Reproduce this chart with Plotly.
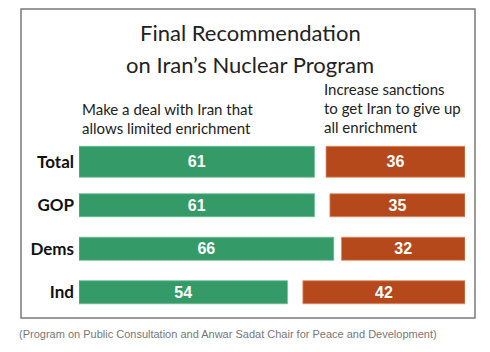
import plotly.graph_objects as go

categories = ["Total", "GOP", "Dems", "Ind"]
deal_values = [61, 61, 66, 54]
sanction_values = [36, 35, 32, 42]
scale_max = 100

title_lines = ["Final Recommendation", "on Iran’s Nuclear Program"]
deal_header = ["Make a deal with Iran that", "allows limited enrichment"]
sanction_header = ["Increase sanctions", "to get Iran to give up", "all enrichment"]
source_text = "(Program on Public Consultation and Anwar Sadat Chair for Peace and Development)"

GREEN = "#349a68"
RED = "#b6491b"
FONT = "Lato"

W, H = 490, 352
L, R, T, B = 79, 25, 140, 38
PW, PH = W - L - R, H - T - B


def px(x):
    return (x - L) / PW


def py(y):
    return (H - B - y) / PH


bar_widths = [0.71, 0.53, 0.53, 0.53]

fig = go.Figure()
fig.add_trace(go.Bar(
    y=categories, x=deal_values, orientation="h", base=0,
    width=bar_widths,
    marker=dict(color=GREEN, line=dict(color="#6cc094", width=0.8)),
    text=[str(v) for v in deal_values], textposition="inside",
    insidetextanchor="middle", constraintext="none",
    textfont=dict(family="Liberation Sans", size=16, color="white", weight="bold"),
    hoverinfo="skip", showlegend=False,
))
fig.add_trace(go.Bar(
    y=categories, x=sanction_values, orientation="h",
    base=[scale_max - v for v in sanction_values],
    width=bar_widths,
    marker=dict(color=RED, line=dict(color="#e08a5e", width=0.8)),
    text=[str(v) for v in sanction_values], textposition="inside",
    insidetextanchor="middle", constraintext="none",
    textfont=dict(family="Liberation Sans", size=16, color="white", weight="bold"),
    hoverinfo="skip", showlegend=False,
))

annotations = []
for i, line in enumerate(title_lines):
    annotations.append(dict(
        text=line, x=px(250), y=py(32 + i * 32.5), xref="paper", yref="paper",
        xanchor="center", yanchor="middle", showarrow=False,
        font=dict(family=FONT, size=22, color="#222222"),
    ))
for i, line in enumerate(deal_header):
    annotations.append(dict(
        text=line, x=px(80), y=py(109 + i * 19), xref="paper", yref="paper",
        xanchor="left", yanchor="middle", showarrow=False,
        font=dict(family=FONT, size=15, color="#222222"),
    ))
for i, line in enumerate(sanction_header):
    annotations.append(dict(
        text=line, x=px(322), y=py(89 + i * 19), xref="paper", yref="paper",
        xanchor="left", yanchor="middle", showarrow=False,
        font=dict(family=FONT, size=15, color="#222222"),
    ))
annotations.append(dict(
    text=source_text, x=px(17), y=py(334), xref="paper", yref="paper",
    xanchor="left", yanchor="middle", showarrow=False,
    font=dict(family="Liberation Sans", size=11, color="#777777"),
))

fig.update_layout(
    width=W, height=H,
    margin=dict(l=L, r=R, t=T, b=B),
    paper_bgcolor="white", plot_bgcolor="white",
    barmode="overlay",
    xaxis=dict(range=[0, scale_max], visible=False, fixedrange=True),
    yaxis=dict(
        categoryorder="array", categoryarray=categories, autorange="reversed",
        showgrid=False, zeroline=False, showline=False, ticks="",
        ticklabelstandoff=4,
        tickfont=dict(family=FONT, size=17, color="#111111", weight="bold"),
    ),
    annotations=annotations,
    shapes=[dict(
        type="rect", xref="paper", yref="paper",
        x0=px(21), x1=px(475), y0=py(318), y1=py(9),
        line=dict(color="#7a7a7a", width=1.5), fillcolor="rgba(0,0,0,0)",
        layer="below",
    )],
)

fig.write_html("out.html")
